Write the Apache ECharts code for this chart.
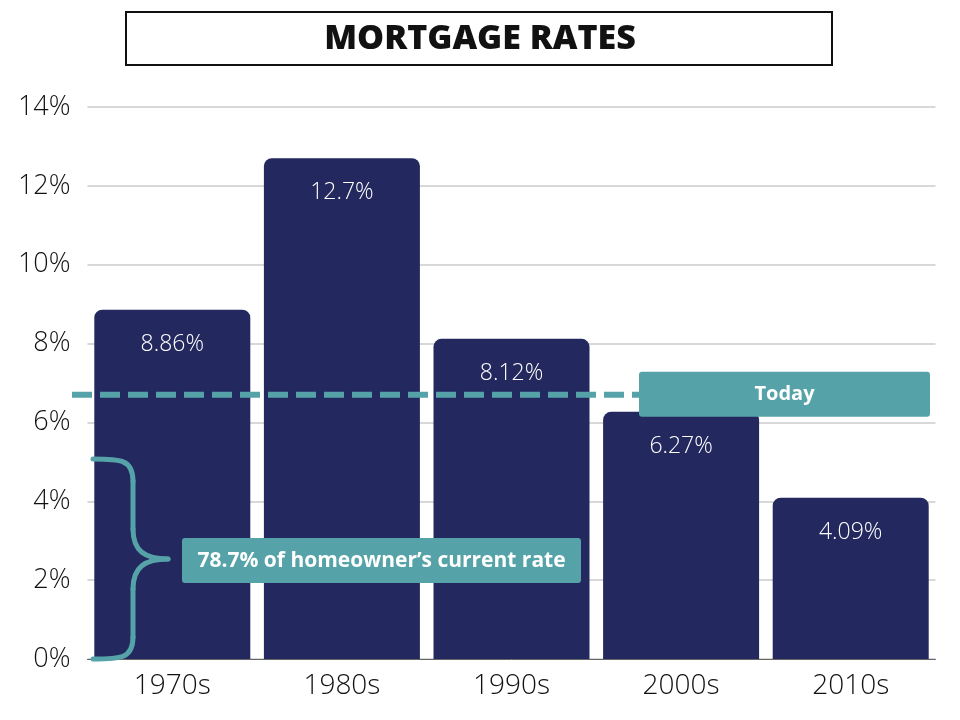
<!DOCTYPE html>
<html>
<head>
<meta charset="utf-8">
<script src="https://cdn.jsdelivr.net/npm/echarts@6/dist/echarts.min.js"></script>
<style>html,body{margin:0;padding:0;background:#fff}#c{width:960px;height:720px}</style>
</head>
<body>
<div id="c"></div>
<script>
const categories = ['1970s', '1980s', '1990s', '2000s', '2010s'];
const rates = [8.86, 12.7, 8.12, 6.27, 4.09];
const todayRate = 6.7;
const braceTop = 5.07;
const titleText = 'MORTGAGE RATES';
const todayText = 'Today';
const noteText = '78.7% of homeowner\u2019s current rate';

const NAVY = '#23285e';
const TEAL = '#55a3a8';
const FONT = '"Open Sans", "Noto Sans", sans-serif';

const chart = echarts.init(document.getElementById('c'), null, {renderer: 'canvas'});
const option = {
  animation: false,
  backgroundColor: '#ffffff',
  grid: {left: 87.5, right: 24.5, top: 107, bottom: 61},
  xAxis: {
    type: 'category',
    data: categories,
    axisTick: {show: false},
    axisLine: {show: true, lineStyle: {color: '#666', width: 1}},
    axisLabel: {color: '#111', fontSize: 28, fontFamily: FONT, fontWeight: 300, margin: 13}
  },
  yAxis: {
    type: 'value',
    min: 0, max: 14, interval: 2,
    axisLine: {show: false},
    axisTick: {show: false},
    splitLine: {lineStyle: {color: '#cbcbcb', width: 1.5}},
    axisLabel: {formatter: '{value}%', color: '#111', fontSize: 27, fontFamily: FONT, fontWeight: 300, margin: 17}
  },
  series: [{
    type: 'bar',
    data: rates,
    barWidth: 156,
    itemStyle: {color: NAVY, borderRadius: [8, 8, 0, 0]},
    label: {
      show: true,
      position: 'insideTop',
      distance: 23,
      color: '#ffffff',
      fontSize: 23,
      fontFamily: FONT,
      fontWeight: 300,
      formatter: p => p.value + '%'
    },
    z: 2
  }]
};
chart.setOption(option);

function build() {
  const yToday = chart.convertToPixel({yAxisIndex: 0}, todayRate);
  const y0 = chart.convertToPixel({yAxisIndex: 0}, 0);
  const yTop = chart.convertToPixel({yAxisIndex: 0}, braceTop);
  const yMid = (y0 + yTop) / 2;
  const xL = 93, xS = 133, xT = 168;
  const braceStyle = {stroke: TEAL, lineWidth: 5, fill: null, lineCap: 'round'};
  const braceParts = [
    {type: 'bezierCurve', shape: {x1: xL, y1: yTop, cpx1: xL + 27, cpy1: yTop, cpx2: xS, cpy2: yTop, x2: xS, y2: yTop + 22}},
    {type: 'line', shape: {x1: xS, y1: yTop + 22, x2: xS, y2: yMid - 30}},
    {type: 'bezierCurve', shape: {x1: xS, y1: yMid - 30, cpx1: xS, cpy1: yMid - 8, cpx2: xS + 12, cpy2: yMid, x2: xT, y2: yMid}},
    {type: 'bezierCurve', shape: {x1: xT, y1: yMid, cpx1: xS + 12, cpy1: yMid, cpx2: xS, cpy2: yMid + 8, x2: xS, y2: yMid + 30}},
    {type: 'line', shape: {x1: xS, y1: yMid + 30, x2: xS, y2: y0 - 22}},
    {type: 'bezierCurve', shape: {x1: xS, y1: y0 - 22, cpx1: xS, cpy1: y0, cpx2: xL + 27, cpy2: y0, x2: xL, y2: y0}}
  ].map(p => Object.assign(p, {style: braceStyle, z: 20}));
  chart.setOption({
    graphic: [
      {type: 'rect', shape: {x: 126, y: 12, width: 706, height: 53}, style: {fill: '#fff', stroke: '#111', lineWidth: 2}, z: 10},
      {type: 'text', x: 480, y: 39, style: {text: titleText, font: '800 34px ' + FONT, fill: '#111', align: 'center', verticalAlign: 'middle'}, z: 11},
      {type: 'line', shape: {x1: 72, y1: yToday, x2: 930, y2: yToday}, style: {stroke: TEAL, lineWidth: 6, lineDash: [20, 8]}, z: 20},
      {type: 'rect', shape: {x: 639, y: yToday - 23, width: 291, height: 45, r: 3}, style: {fill: TEAL}, z: 21},
      {type: 'text', x: 784.5, y: yToday - 0.5, style: {text: todayText, font: 'bold 20px ' + FONT, fill: '#fff', align: 'center', verticalAlign: 'middle'}, z: 22}
    ].concat(braceParts).concat([
      {type: 'rect', shape: {x: 182, y: yMid - 21, width: 399, height: 45, r: 3}, style: {fill: TEAL}, z: 21},
      {type: 'text', x: 381.5, y: yMid + 1.5, style: {text: noteText, font: 'bold 21px ' + FONT, fill: '#fff', align: 'center', verticalAlign: 'middle'}, z: 22}
    ])
  });
}
build();
</script>
</body>
</html>
